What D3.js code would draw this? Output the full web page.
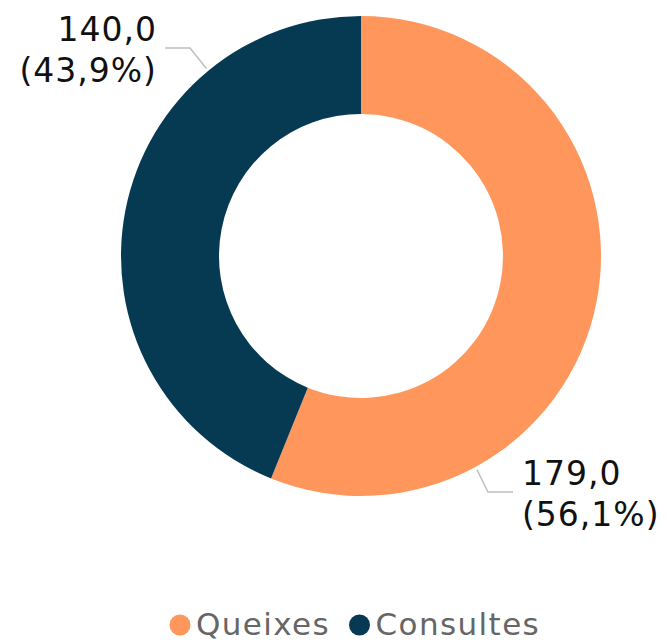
<!DOCTYPE html>
<html><head><meta charset="utf-8">
<script src="https://cdn.jsdelivr.net/npm/d3@7"></script>
<style>body{margin:0;background:#fff}svg{display:block}</style>
</head><body>
<svg id="c" width="670" height="642"></svg>
<script>
const categories = ["Queixes", "Consultes"];
const values = [179.0, 140.0];
const colors = ["#FF975C", "#063A53"];

const svg = d3.select("#c");
const cx = 361, cy = 256, rOuter = 240, rInner = 142;
const g = svg.append("g").attr("transform", `translate(${cx},${cy})`);
const total = d3.sum(values);
const pie = d3.pie().sort(null).value(d => d)(values);
const arc = d3.arc().innerRadius(rInner).outerRadius(rOuter);
g.selectAll("path").data(pie).enter().append("path")
  .attr("d", arc).attr("fill", (d, i) => colors[i]);

const fmt = v => v.toFixed(1).replace(".", ",");
const font = "DejaVu Sans, Verdana, sans-serif";
// label layout: leader anchor angle (deg), elbow, text positions
const layout = [
  {ang: 151.5, elbow: [127, 236], end: [152, 236], tx: 161, ty: 229, anchor: "start"},
  {ang: 320.5, elbow: [-171, -208], end: [-196, -208], tx: -204, ty: -215, anchor: "end"}
];
pie.forEach((d, i) => {
  const L = layout[i];
  const a = L.ang * Math.PI / 180;
  const p0 = [Math.sin(a) * 243, -Math.cos(a) * 243];
  g.append("polyline")
    .attr("points", [p0, L.elbow, L.end].map(p => p.join(",")).join(" "))
    .attr("fill", "none").attr("stroke", "#BFBFBF").attr("stroke-width", 1.5);
  const t = g.append("text").attr("font-family", font).attr("font-size", 33)
    .attr("letter-spacing", 1).attr("fill", "#111").attr("text-anchor", L.anchor);
  t.append("tspan").attr("x", L.tx).attr("y", L.ty).text(fmt(values[i]));
  t.append("tspan").attr("x", L.tx).attr("y", L.ty + 41)
    .text("(" + fmt(values[i] / total * 100) + "%)");
});

// legend
const leg = svg.append("g");
const items = [{x: 180}, {x: 359.5}];
categories.forEach((c, i) => {
  leg.append("circle").attr("cx", items[i].x).attr("cy", 625).attr("r", 10.5).attr("fill", colors[i]);
  leg.append("text").attr("x", items[i].x + 16).attr("y", 635)
    .attr("font-family", font).attr("font-size", 31).attr("letter-spacing", 1.4)
    .attr("fill", "#666").text(c);
});
</script>
</body></html>
